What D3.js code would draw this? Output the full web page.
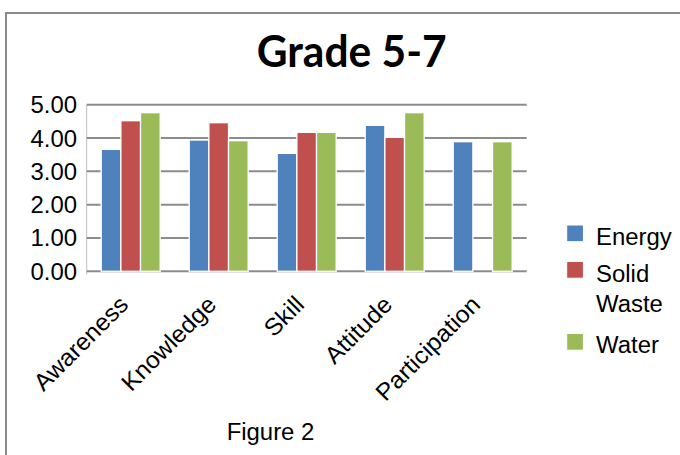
<!DOCTYPE html>
<html><head><meta charset="utf-8">
<script src="https://cdn.jsdelivr.net/npm/d3@7"></script>
<style>html,body{margin:0;padding:0;background:#fff;overflow:hidden}</style>
</head><body>
<svg id="c" width="680" height="455"></svg>
<script>
const categories = ["Awareness", "Knowledge", "Skill", "Attitude", "Participation"];
const seriesNames = ["Energy", "Solid Waste", "Water"];
const energy = [3.66, 3.94, 3.54, 4.38, 3.89];
const solidWaste = [4.52, 4.46, 4.17, 4.02, null];
const water = [4.76, 3.92, 4.17, 4.76, 3.89];
const yTicks = [0, 1, 2, 3, 4, 5];
const colors = ["#4F81BD", "#C0504D", "#9BBB59"];
const title = "Grade 5-7";
const caption = "Figure 2";

const series = [energy, solidWaste, water];
const svg = d3.select("#c");
const FS = 23, SX = 1.04;
const FONT = "Liberation Sans, Arial, sans-serif";
function stretch(sel, k) {
  sel.each(function() {
    const w = this.getComputedTextLength();
    d3.select(this).attr("textLength", w * k).attr("lengthAdjust", "spacingAndGlyphs");
  });
}

// outer frame
svg.append("rect").attr("x", 6).attr("y", 13).attr("width", 720).attr("height", 520)
  .attr("fill", "none").attr("stroke", "#8a8a8a").attr("stroke-width", 2);

const L = 86.7, R = 526.7, T = 104.7, B = 271.3;
const x0 = d3.scaleBand().domain(categories).range([L, R]).paddingInner(0.33).paddingOuter(0.165);
const x1 = d3.scaleBand().domain(seriesNames).range([0, x0.bandwidth()]);
const y = d3.scaleLinear().domain([0, 5]).range([B, T]);

// left plot edge
svg.append("line").attr("x1", L).attr("x2", L).attr("y1", T).attr("y2", B + 3)
  .attr("stroke", "#bdbdbd").attr("stroke-width", 1);

// gridlines
svg.append("g").selectAll("line").data(yTicks).join("line")
  .attr("x1", L).attr("x2", R).attr("y1", d => y(d)).attr("y2", d => y(d))
  .attr("stroke", "#8c8c8c").attr("stroke-width", 2);

// y tick labels
const yl = svg.append("g").selectAll("text").data(yTicks).join("text")
  .attr("x", 77).attr("y", d => y(d) + 8.5)
  .attr("text-anchor", "end").attr("font-family", FONT)
  .attr("font-size", FS).attr("fill", "#000").text(d => d3.format(".2f")(d));
stretch(yl, SX);

// bars
const g = svg.append("g");
categories.forEach((c, i) => {
  series.forEach((s, j) => {
    const v = s[i];
    if (v == null) return;
    g.append("rect")
      .attr("x", x0(c) + x1(seriesNames[j]))
      .attr("y", y(v))
      .attr("width", x1.bandwidth())
      .attr("height", y(0) - y(v))
      .attr("fill", colors[j])
      .attr("stroke", "#ffffff").attr("stroke-width", 1.3);
  });
});

// x labels
const xl = svg.append("g").selectAll("text").data(categories).join("text")
  .attr("transform", d => `translate(${x0(d) + x0.bandwidth() / 2 - 1},${306}) rotate(-45)`)
  .attr("text-anchor", "end").attr("font-family", FONT)
  .attr("font-size", 24).attr("fill", "#000").text(d => d);
stretch(xl, 1.03);

// title
svg.append("text").attr("x", 351.7).attr("y", 66.7).attr("text-anchor", "middle")
  .attr("font-family", "Lato, 'Open Sans', sans-serif").attr("font-weight", "bold")
  .attr("font-size", 44).attr("fill", "#000").text(title)
  .attr("textLength", 190).attr("lengthAdjust", "spacingAndGlyphs");

// caption
const cap = svg.append("text").attr("x", 270.5).attr("y", 440).attr("text-anchor", "middle")
  .attr("font-family", FONT).attr("font-size", FS)
  .attr("fill", "#000").text(caption);
stretch(cap, SX);

// legend
const legendRows = [
  { sq: 225, lines: ["Energy"], base: [245] },
  { sq: 261.5, lines: ["Solid"], base: [282] },
  { sq: null, lines: ["Waste"], base: [312] },
  { sq: 333.5, lines: ["Water"], base: [353] }
];
let ci = 0;
legendRows.forEach(r => {
  if (r.sq != null) {
    svg.append("rect").attr("x", 566.7).attr("y", r.sq).attr("width", 16.7).attr("height", 16.7)
      .attr("fill", colors[ci++]).attr("stroke", "#ffffff").attr("stroke-width", 1);
  }
  r.lines.forEach((t, k) => {
    const tx = svg.append("text").attr("x", 596).attr("y", r.base[k])
      .attr("font-family", FONT).attr("font-size", FS)
      .attr("fill", "#000").text(t);
    stretch(tx, SX);
  });
});
</script>
</body></html>
